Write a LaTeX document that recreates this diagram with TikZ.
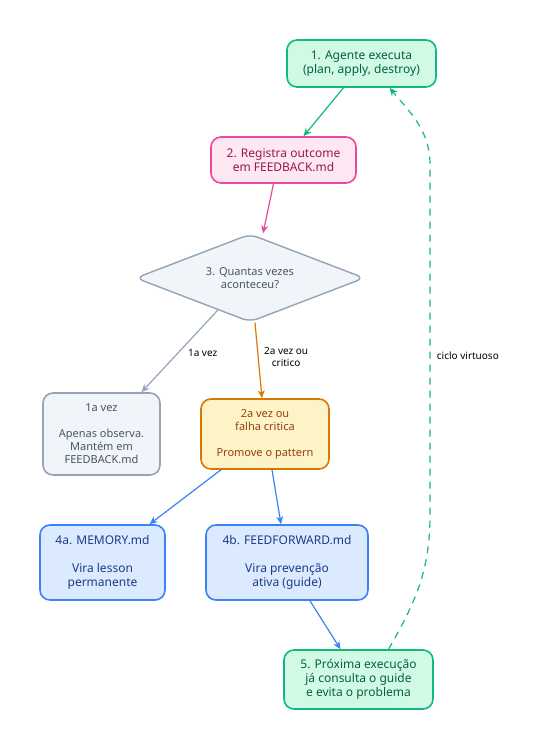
\documentclass[tikz,border=0pt]{standalone}
\usepackage{fontspec}
\setmainfont{Noto Sans}
\usetikzlibrary{arrows.meta,shapes.geometric,calc}
\definecolor{grnfill}{HTML}{D1FAE5}
\definecolor{grnline}{HTML}{10B981}
\definecolor{grntext}{HTML}{065F46}
\definecolor{pnkfill}{HTML}{FCE7F3}
\definecolor{pnkline}{HTML}{EC4899}
\definecolor{pnktext}{HTML}{9D174D}
\definecolor{slafill}{HTML}{F1F5F9}
\definecolor{slaline}{HTML}{94A3B8}
\definecolor{slatext}{HTML}{475569}
\definecolor{ambfill}{HTML}{FEF3C7}
\definecolor{ambline}{HTML}{D97706}
\definecolor{ambtext}{HTML}{92400E}
\definecolor{blufill}{HTML}{DBEAFE}
\definecolor{bluline}{HTML}{3B82F6}
\definecolor{blutext}{HTML}{1E3A8A}
\tikzset{
  stepbox/.style={draw, line width=1.6pt, rounded corners=10pt, align=center,
    font=\fontsize{12}{14}\selectfont},
  smallbox/.style={stepbox, font=\fontsize{11}{13}\selectfont},
  edge/.style={line width=1.2pt, -{Stealth[length=8pt,width=7pt]}},
  elabel/.style={font=\fontsize{10}{11.5}\selectfont, align=center, text=black}
}
\begin{document}
\begin{tikzpicture}[x=1pt, y=-1pt]
	\useasboundingbox (0,0) rectangle (536,750);
	% Steps
	\node[stepbox, fill=grnfill, draw=grnline, text=grntext, minimum width=149pt, minimum height=47pt] (agente) at (361.5,63.5) {1. Agente executa\\(plan, apply, destroy)};
	\node[stepbox, fill=pnkfill, draw=pnkline, text=pnktext, minimum width=145pt, minimum height=46pt] (registra) at (283.5,160) {2. Registra outcome\\em FEEDBACK.md};
	\node[draw, diamond, aspect=2.6, rounded corners=8pt, line width=1.4pt, fill=slafill, draw=slaline, text=slatext, minimum width=229pt, minimum height=88pt, inner sep=0pt, align=center, font=\fontsize{11}{13}\selectfont] (quantas) at (250,278) {3. Quantas vezes\\aconteceu?};
	% Branches
	\node[smallbox, fill=slafill, draw=slaline, text=slatext, minimum width=117pt, minimum height=82pt] (primeira) at (101.5,434) {1a vez\\[13pt]Apenas observa.\\Mantém em\\FEEDBACK.md};
	\node[smallbox, fill=ambfill, draw=ambline, text=ambtext, minimum width=128pt, minimum height=70pt] (segunda) at (265,434) {2a vez ou\\falha critica\\[13pt]Promove o pattern};
	\node[stepbox, fill=blufill, draw=bluline, text=blutext, minimum width=125pt, minimum height=75pt] (memory) at (102.5,562.5) {4a. MEMORY.md\\[14pt]Vira lesson\\permanente};
	\node[stepbox, fill=blufill, draw=bluline, text=blutext, minimum width=162pt, minimum height=75pt] (feedforward) at (287,562.5) {4b. FEEDFORWARD.md\\[14pt]Vira prevenção\\ativa (guide)};
	\node[stepbox, fill=grnfill, draw=grnline, text=grntext, minimum width=149pt, minimum height=59pt] (proxima) at (358.5,679.5) {5. Próxima execução\\já consulta o guide\\e evita o problema};
	% Arrows
	\draw[edge, grnline] ([xshift=-18pt]agente.south) -- ([xshift=20pt]registra.north);
	\draw[edge, pnkline] ([xshift=-10pt]registra.south) -- ([xshift=13pt]quantas.north);
	\draw[edge, slaline] ($(quantas.west)!0.72!(quantas.south)$) -- ([xshift=40pt]primeira.north) node[elabel, pos=0.52, right=6pt] {1a vez};
	\draw[edge, ambline] ([xshift=5pt]quantas.south) -- ([xshift=-3pt]segunda.north) node[elabel, pos=0.45, right=2pt] {2a vez ou\\critico};
	\draw[edge, bluline] ([xshift=-44pt]segunda.south) -- ([xshift=47pt]memory.north);
	\draw[edge, bluline] ([xshift=7pt]segunda.south) -- ([xshift=-6pt]feedforward.north);
	\draw[edge, bluline] ([xshift=23pt]feedforward.south) -- ([xshift=-18pt]proxima.north);
	% Loop back
	\coordinate (loopLo) at (430,515);
	\coordinate (loopHi) at (430,165);
	\draw[line width=1.2pt, grnline, dash pattern=on 7pt off 6pt, -{Stealth[length=8pt,width=7pt]}] ([xshift=30pt]proxima.north) to[out=60,in=-90] (loopLo) -- (loopHi) node[elabel, pos=0.455, right=3pt] {ciclo virtuoso} to[out=90,in=-50] ([xshift=28pt]agente.south);
\end{tikzpicture}
\end{document}
